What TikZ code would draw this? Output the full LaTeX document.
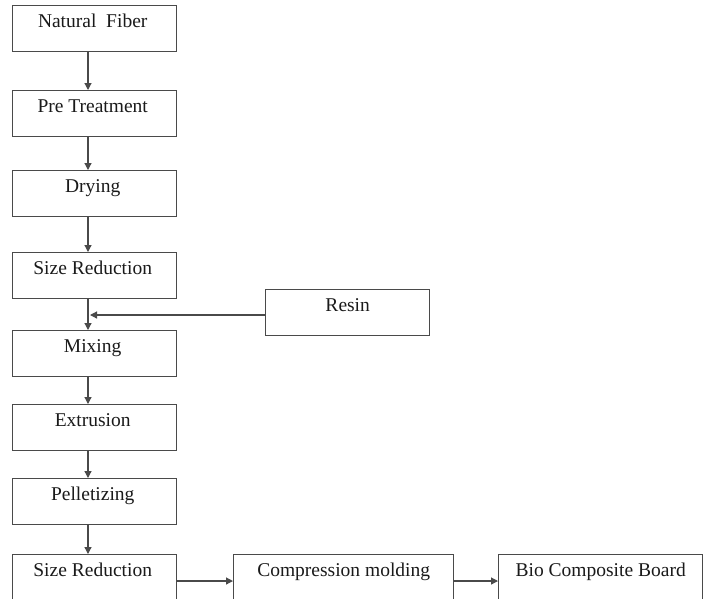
\documentclass[tikz,border=0pt]{standalone}
\usepackage{fontspec}
\setmainfont{Liberation Serif}
\usetikzlibrary{arrows.meta,calc}
\definecolor{ln}{HTML}{4A4A4A}
\definecolor{tx}{HTML}{1A1A1A}
\tikzset{
  box/.style={draw=ln, line width=1.4pt, minimum width=164pt, minimum height=46pt, inner sep=0pt, anchor=north west},
  boxtext/.style={anchor=base, text=tx, font=\fontsize{19.5}{20}\selectfont, inner sep=0pt},
  conn/.style={draw=ln, line width=1.2pt, -{Triangle[length=7pt,width=7pt]}}
}
\begin{document}
\begin{tikzpicture}[x=1pt,y=-1pt]
\useasboundingbox (0,0) rectangle (708,598);
\clip (0,0) rectangle (708,598);
\fill[white] (0,0) rectangle (708,598);
% left column boxes
\node[box] (b1) at (12,5) {};
\node[box] (b2) at (12,90) {};
\node[box] (b3) at (12,170) {};
\node[box] (b4) at (12,252) {};
\node[box] (b5) at (12,330) {};
\node[box] (b6) at (12,404) {};
\node[box] (b7) at (12,478) {};
\node[box, minimum height=54pt] (b8) at (12,554) {};
\node[box, minimum height=46pt] (res) at (265,289) {};
\node[box, minimum width=220pt, minimum height=54pt] (cm) at (233,554) {};
\node[box, minimum width=204pt, minimum height=54pt] (bio) at (498,554) {};
% texts
\node[boxtext] (t1) at ($(b1.north)+(-2,22.5)$) {Natural\ \ Fiber};
\node[boxtext] (t2) at ($(b2.north)+(-2,22.5)$) {Pre Treatment};
\node[boxtext] (t3) at ($(b3.north)+(-2,22.5)$) {Drying};
\node[boxtext] (t4) at ($(b4.north)+(-2,22.5)$) {Size Reduction};
\node[boxtext] (t5) at ($(b5.north)+(-2,22.5)$) {Mixing};
\node[boxtext] (t6) at ($(b6.north)+(-2,22.5)$) {Extrusion};
\node[boxtext] (t7) at ($(b7.north)+(-2,22.5)$) {Pelletizing};
\node[boxtext] (t8) at ($(b8.north)+(-2,22.5)$) {Size Reduction};
\node[boxtext] (tr) at ($(res.north)+(0,22.5)$) {Resin};
\node[boxtext] (tc) at ($(cm.north)+(0,22.5)$) {Compression molding};
\node[boxtext] (tb) at ($(bio.north)+(0,22.5)$) {Bio Composite Board};
% connector x-position
\coordinate (cx) at (88,0);
\draw[conn] (b1.south -| cx) -- (b2.north -| cx);
\draw[conn] (b2.south -| cx) -- (b3.north -| cx);
\draw[conn] (b3.south -| cx) -- (b4.north -| cx);
\draw[conn] (b4.south -| cx) -- (b5.north -| cx);
\coordinate (rj) at (90,315);
\draw[conn] (res.west |- rj) -- (rj);
\draw[conn] (b5.south -| cx) -- (b6.north -| cx);
\draw[conn] (b6.south -| cx) -- (b7.north -| cx);
\draw[conn] (b7.south -| cx) -- (b8.north -| cx);
\draw[conn] ($(b8.north east)+(0,27)$) -- ($(cm.north west)+(0,27)$);
\draw[conn] ($(cm.north east)+(0,27)$) -- ($(bio.north west)+(0,27)$);
\end{tikzpicture}
\end{document}
